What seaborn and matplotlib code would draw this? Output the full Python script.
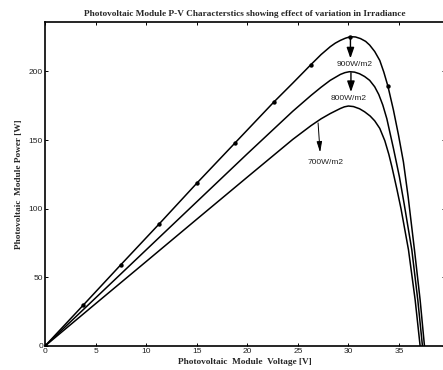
import matplotlib
matplotlib.use("Agg")
import matplotlib.pyplot as plt
import seaborn as sns

# P-V curves (voltage in V, power in W)
v_900 = [0, 3.8, 7.5, 11.3, 15.0, 18.8, 22.6, 24.5, 26.3, 27.3, 28.2, 28.7, 29.2, 29.7,
         30.2, 30.7, 31.2, 31.7, 32.1, 32.6, 33.1, 33.5, 33.9, 34.45, 34.95, 35.44,
         35.9, 36.53, 37.09, 37.52]
p_900 = [0, 29.9, 59.2, 89.0, 118.5, 148.0, 177.5, 191.5, 205.0, 212.3, 218.0, 220.6,
         222.6, 224.2, 225.3, 225.1, 223.9, 221.9, 219.2, 214.5, 208.0, 199.5, 189.4,
         171.9, 153.7, 134.0, 109.0, 70.0, 33.5, 0]

v_800 = [0, 5, 10, 15, 20, 24.5, 26.3, 27.3, 28.2, 29.2, 29.65, 30.1, 30.6, 31.1, 31.6,
         32.1, 32.6, 33.0, 33.4, 33.8, 34.45, 35.04, 35.5, 36.27, 36.86, 37.32]
p_800 = [0, 35.0, 70.0, 105.0, 140.0, 171.0, 182.5, 188.5, 193.5, 197.8, 199.1, 199.8,
         199.5, 198.3, 196.3, 193.5, 188.8, 183.2, 175.5, 165.5, 144.0, 123.3, 104.0,
         69.9, 33.5, 0]

v_700 = [0, 5, 10, 15, 20, 24.5, 26.3, 27.3, 28.2, 29.2, 29.6, 30.0, 30.5, 31.1, 31.6,
         32.15, 32.6, 33.1, 33.6, 34.0, 34.3, 34.8, 35.2, 35.94, 36.6, 37.09]
p_700 = [0, 30.8, 61.5, 92.3, 123.0, 150.5, 160.5, 165.5, 169.3, 173.0, 174.2, 174.8,
         174.4, 172.8, 170.6, 167.5, 164.0, 158.5, 149.5, 139.5, 130.5, 114.0, 100.0,
         70.0, 33.5, 0]

# dots on the top curve
marker_v = [0, 3.8, 7.5, 11.3, 15.0, 18.8, 22.6, 26.3, 30.2, 33.9]
marker_p = [0, 29.9, 59.2, 89.0, 118.5, 148.0, 177.5, 205.0, 225.3, 189.4]

x_ticks = [0, 5, 10, 15, 20, 25, 30, 35]
y_ticks = [0, 50, 100, 150, 200]

sns.set_theme(style="ticks")
plt.rcParams['font.family'] = ['Liberation Sans', 'DejaVu Sans']
plt.rcParams['xtick.direction'] = 'in'
plt.rcParams['ytick.direction'] = 'in'

fig = plt.figure(figsize=(4.43, 3.70), dpi=100)
ax = fig.add_axes([45 / 443, 24 / 370, 399.5 / 443, 324 / 370])

for v, p in [(v_900, p_900), (v_800, p_800), (v_700, p_700)]:
    sns.lineplot(x=v, y=p, ax=ax, color='black', lw=1.1, sort=False, estimator=None)

sns.scatterplot(x=marker_v, y=marker_p, ax=ax, color='black', s=10, linewidth=0, zorder=5)

# arrows + irradiance labels
big_head = '-|>,head_length=0.8,head_width=0.28'
ax.annotate('', xy=(30.2, 209.5), xytext=(30.2, 224.5),
            arrowprops=dict(arrowstyle=big_head, mutation_scale=8,
                            color='black', lw=1.0, shrinkA=0, shrinkB=0))
ax.annotate('', xy=(30.25, 185.0), xytext=(30.25, 199.0),
            arrowprops=dict(arrowstyle=big_head, mutation_scale=8,
                            color='black', lw=1.0, shrinkA=0, shrinkB=0))
ax.annotate('', xy=(27.2, 141.0), xytext=(27.0, 162.5),
            arrowprops=dict(arrowstyle='-|>,head_length=0.8,head_width=0.2',
                            mutation_scale=8, color='black', lw=0.7,
                            shrinkA=0, shrinkB=0))

ax.text(30.6, 205.4, '900W/m2', fontsize=6, color='#222222', ha='center', va='center')
ax.text(30.0, 180.3, '800W/m2', fontsize=6, color='#222222', ha='center', va='center')
ax.text(27.7, 133.4, '700W/m2', fontsize=6, color='#222222', ha='center', va='center')

ax.set_xlim(0, 39.5)
ax.set_ylim(0, 236)
ax.set_xticks(x_ticks)
ax.set_yticks(y_ticks)
ax.tick_params(axis='both', which='major', labelsize=6, length=2.5, width=0.7,
               top=True, right=True, pad=1.5, colors='black')
ax.tick_params(axis='both', labelcolor='#222222')

for side in ['left', 'bottom', 'top', 'right']:
    ax.spines[side].set_visible(True)
    ax.spines[side].set_color('black')
    ax.spines[side].set_linewidth(1.2)

serif = dict(family=['Liberation Serif', 'DejaVu Serif'], fontweight='bold')
ax.set_title('Photovoltaic Module P-V Characterstics showing effect of variation in Irradiance',
             pad=4, fontsize=6.7, **serif)
ax.set_xlabel('Photovoltaic  Module  Voltage [V]', labelpad=2, fontsize=6.7, **serif)
ax.set_ylabel('Photovoltaic  Module Power [W]', labelpad=4, fontsize=6.7, **serif)

fig.savefig('out.png', dpi=100)
